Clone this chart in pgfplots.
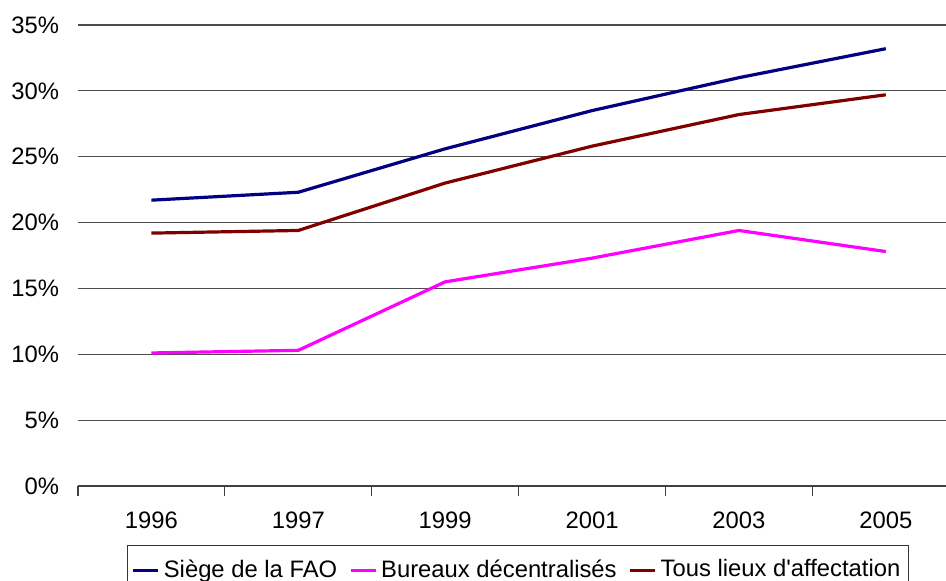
\documentclass[border=0pt]{standalone}
\usepackage{fontspec}
\setmainfont{Liberation Sans}
\usepackage{pgfplots}
\pgfplotsset{compat=1.18}

\definecolor{siege}{HTML}{000080}
\definecolor{bureaux}{HTML}{FF00FF}
\definecolor{tous}{HTML}{800000}

\begin{document}
\fontsize{11.9}{14}\selectfont
\begin{tikzpicture}
\path[use as bounding box] (-39pt,-47.5pt) rectangle (434pt,243pt);
\clip (-39pt,-47.5pt) rectangle (434pt,243pt);
\begin{axis}[
    at={(0,0)}, anchor=south west,
    scale only axis,
    width=434pt, height=230.5pt,
    xmin=-0.5, xmax=5.41,
    ymin=0, ymax=35,
    xtick={0,...,5},
    xticklabels={1996,1997,1999,2001,2003,2005},
    minor xtick={-0.5,0.5,...,5.5},
    major x tick style={draw=none},
    minor x tick style={black!75, line width=0.6pt},
    minor tick length=5pt,
    tick align=outside,
    ytick={0,5,...,35},
    yticklabel={\pgfmathprintnumber{\tick}\%},
    ytick style={draw=none},
    ymajorgrids,
    grid style={black!70, line width=0.6pt},
    axis x line*=bottom,
    axis y line*=left,
    y axis line style={draw=none},
    x axis line style={black!75, line width=0.6pt, -},
    /pgf/number format/assume math mode=true,
    tick label style={font=\fontsize{11.9}{14}\selectfont},
    y tick label style={anchor=east, xshift=-1pt},
    x tick label style={yshift=-4.5pt},
    legend style={at={(0.507,-0.128)}, anchor=north, legend columns=3,
        draw=black!80, line width=0.6pt,
        font=\fontsize{11.9}{14}\selectfont,
        inner xsep=2pt, inner ysep=5pt,
        /tikz/every even column/.append style={column sep=4pt}},
    legend image code/.code={\draw[#1, line width=1.5pt] (0pt,0pt) -- (12.5pt,0pt);},
]
\addplot[siege, line width=1.6pt] coordinates {(0,21.7) (1,22.3) (2,25.6) (3,28.5) (4,31.0) (5,33.2)};
\addlegendentry{Siège de la FAO}
\addplot[bureaux, line width=1.6pt] coordinates {(0,10.1) (1,10.3) (2,15.5) (3,17.3) (4,19.4) (5,17.8)};
\addlegendentry{Bureaux décentralisés}
\addplot[tous, line width=1.6pt] coordinates {(0,19.2) (1,19.4) (2,23.0) (3,25.8) (4,28.2) (5,29.7)};
\addlegendentry{Tous lieux d\textquotesingle affectation}
\end{axis}
\end{tikzpicture}
\end{document}
